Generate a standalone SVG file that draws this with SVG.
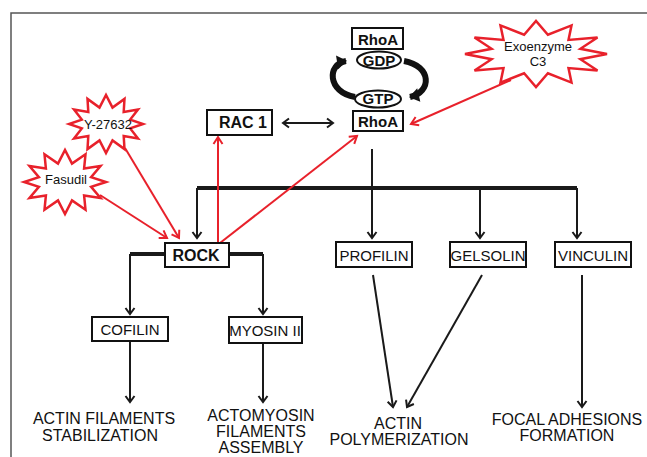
<svg xmlns="http://www.w3.org/2000/svg" width="647" height="457" viewBox="0 0 647 457">
<style>
.box{fill:#fff;stroke:#111;stroke-width:2}
.ell{fill:#fff;stroke:#111;stroke-width:2}
.bt{font-family:"Liberation Sans",Arial,sans-serif;font-weight:bold;text-anchor:middle;fill:#111}
.rt{font-family:"Liberation Sans",Arial,sans-serif;text-anchor:middle;fill:#111}
.star{fill:#fff;stroke:#e8212b;stroke-width:2.5;stroke-linejoin:miter}
.ln{stroke:#1a1a1a;stroke-width:2;fill:none}
.thick{stroke:#1a1a1a;stroke-width:4;fill:none}
.red{stroke:#e8212b;stroke-width:2;fill:none}
.cyc{stroke:#111;stroke-width:6;fill:none}
</style>
<defs>
<marker id="ab" markerUnits="userSpaceOnUse" markerWidth="12" markerHeight="12" viewBox="-8 -6 10 12" refX="0" refY="0" orient="auto-start-reverse">
<path d="M-6,-4.5 L0,0 L-6,4.5" fill="none" stroke="#1a1a1a" stroke-width="2"/>
</marker>
<marker id="ar" markerUnits="userSpaceOnUse" markerWidth="12" markerHeight="12" viewBox="-8 -6 10 12" refX="0" refY="0" orient="auto">
<path d="M-7,-4.5 L0,0 L-7,4.5" fill="none" stroke="#e8212b" stroke-width="2"/>
</marker>
<marker id="af" markerUnits="userSpaceOnUse" markerWidth="16" markerHeight="16" viewBox="-10 -8 12 16" refX="0" refY="0" orient="auto">
<path d="M-9,-7 L1,0 L-9,7 Z" fill="#111"/>
</marker>
</defs>

<path d="M11,457 V13 H647" fill="none" stroke="#555" stroke-width="1.5"/>

<g id="connectors">
<path class="thick" d="M197,188 H577"/>
<path class="ln" d="M197,188 V238" marker-end="url(#ab)"/>
<path class="ln" d="M372,149 V238" marker-end="url(#ab)"/>
<path class="ln" d="M480,188 V238" marker-end="url(#ab)"/>
<path class="ln" d="M577,188 V238" marker-end="url(#ab)"/>
<path class="thick" d="M130,254 H165 M229,254 H263"/>
<path class="ln" d="M130,254 V314" marker-end="url(#ab)"/>
<path class="ln" d="M263,254 V314" marker-end="url(#ab)"/>
<path class="ln" d="M130,341 V402" marker-end="url(#ab)"/>
<path class="ln" d="M263,343 V402" marker-end="url(#ab)"/>
<path class="ln" d="M373,275 L393,407" marker-end="url(#ab)"/>
<path class="ln" d="M482,275 L407,407" marker-end="url(#ab)"/>
<path class="ln" d="M582,275 V407" marker-end="url(#ab)"/>
<path class="ln" d="M283,123 H333" marker-start="url(#ab)" marker-end="url(#ab)"/>
<path class="cyc" d="M355,97 C327,92 327,64 346,61" marker-end="url(#af)"/>
<path class="cyc" d="M404,61 C432,66 432,92 410,97" marker-end="url(#af)"/>
<path class="red" d="M511,80 L411,124" marker-end="url(#ar)"/>
<path class="red" d="M100,195 L167,238" marker-end="url(#ar)"/>
<path class="red" d="M125,148 L179,238" marker-end="url(#ar)"/>
<path class="red" d="M218,243 L218,137" marker-end="url(#ar)"/>
<path class="red" d="M220,243 L357,136" marker-end="url(#ar)"/>
</g>

<g id="rhoa-gdp">
<rect class="box" x="352" y="28" width="51" height="21"/>
<text class="bt" x="378" y="45" font-size="15">RhoA</text>
<ellipse class="ell" cx="379" cy="60" rx="22" ry="8.5"/>
<text class="bt" x="379" y="65.5" font-size="15">GDP</text>
</g>
<g id="rhoa-gtp">
<ellipse class="ell" cx="378" cy="99" rx="23" ry="8.5"/>
<text class="bt" x="378" y="104" font-size="15">GTP</text>
<rect class="box" x="353" y="111" width="50" height="20"/>
<text class="bt" x="378" y="127" font-size="15">RhoA</text>
</g>
<g id="exoenzyme">
<polygon class="star" points="607,54 580.4,59.2 597.5,70.5 568.5,68.1 571.5,82.6 547.9,73.3 536,87 524.1,73.3 500.5,82.6 503.5,68.1 474.5,70.5 491.6,59.2 465,54 491.6,48.8 474.5,37.5 503.5,39.9 500.5,25.4 524.1,34.7 536,21 547.9,34.7 571.5,25.4 568.5,39.9 597.5,37.5 580.4,48.8"/>
<text class="rt" x="538" y="51" font-size="13">Exoenzyme</text>
<text class="rt" x="538" y="66" font-size="13">C3</text>
</g>
<g id="y27632">
<polygon class="star" points="143,124 130.2,128.4 138,138.5 123.7,136 124.5,149.1 112.5,140.4 106,153 99.5,140.4 87.5,149.1 88.3,136 74,138.5 81.8,128.4 69,124 81.8,119.6 74,109.5 88.3,112 87.5,98.9 99.5,107.6 106,95 112.5,107.6 124.5,98.9 123.7,112 138,109.5 130.2,119.6"/>
<text class="rt" x="108" y="129" font-size="13">Y-27632</text>
</g>
<g id="fasudil">
<polygon class="star" points="106,182 91.1,186.9 100.5,198 84.1,195.4 85.5,209.7 72,200.4 65,214 58,200.4 44.5,209.7 45.9,195.4 29.5,198 38.9,186.9 24,182 38.9,177.1 29.5,166 45.9,168.6 44.5,154.3 58,163.6 65,150 72,163.6 85.5,154.3 84.1,168.6 100.5,166 91.1,177.1"/>
<text class="rt" x="66" y="184" font-size="13">Fasudil</text>
</g>
<g id="rac1">
<rect class="box" x="207" y="110" width="65" height="25"/>
<text class="bt" x="243" y="128" font-size="16">RAC 1</text>
</g>
<g id="rock">
<rect class="box" x="165" y="243" width="64" height="24"/>
<text class="bt" x="196" y="261" font-size="16">ROCK</text>
</g>
<g id="cofilin">
<rect class="box" x="92" y="317" width="76" height="24"/>
<text class="rt" x="130" y="335" font-size="15">COFILIN</text>
</g>
<g id="myosin">
<rect class="box" x="229" y="317" width="73" height="26"/>
<text class="rt" x="265" y="336" font-size="15">MYOSIN II</text>
</g>
<g id="profilin">
<rect class="box" x="336" y="242" width="76" height="25"/>
<text class="rt" x="374" y="261" font-size="15">PROFILIN</text>
</g>
<g id="gelsolin">
<rect class="box" x="450" y="242" width="76" height="25"/>
<text class="rt" x="488" y="261" font-size="15">GELSOLIN</text>
</g>
<g id="vinculin">
<rect class="box" x="555" y="242" width="76" height="25"/>
<text class="rt" x="593" y="261" font-size="15">VINCULIN</text>
</g>
<g id="actin-stab">
<text class="rt" x="104" y="424" font-size="16">ACTIN FILAMENTS</text>
<text class="rt" x="100" y="441" font-size="16">STABILIZATION</text>
</g>
<g id="actomyosin">
<text class="rt" x="261" y="421" font-size="16">ACTOMYOSIN</text>
<text class="rt" x="261" y="437" font-size="16">FILAMENTS</text>
<text class="rt" x="261" y="453" font-size="16">ASSEMBLY</text>
</g>
<g id="actin-poly">
<text class="rt" x="398" y="429" font-size="16">ACTIN</text>
<text class="rt" x="399" y="445" font-size="16">POLYMERIZATION</text>
</g>
<g id="focal">
<text class="rt" x="567" y="425" font-size="16">FOCAL ADHESIONS</text>
<text class="rt" x="567" y="441" font-size="16">FORMATION</text>
</g>
</svg>
